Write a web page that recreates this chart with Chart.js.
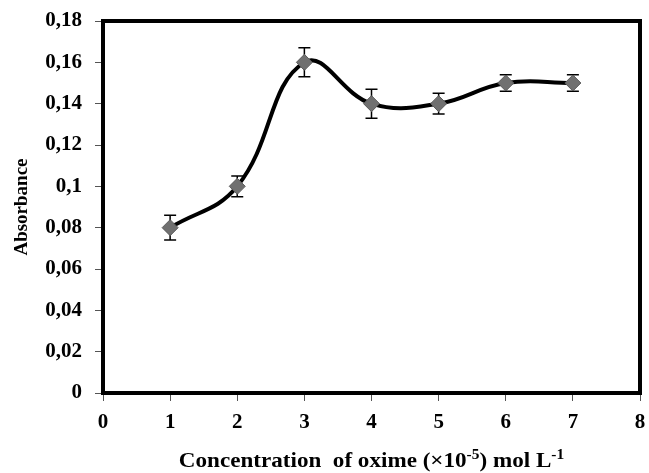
<!DOCTYPE html>
<html>
<head>
<meta charset="utf-8">
<script src="https://cdn.jsdelivr.net/npm/chart.js@4"></script>
<style>
  html, body { margin: 0; padding: 0; background: #fff; }
  #wrap { width: 649px; height: 473px; position: relative; }
</style>
</head>
<body>
<div id="wrap"><canvas id="chart" width="649" height="473"></canvas></div>
<script>
// Absorbance vs oxime concentration
const concentrations = [1, 2, 3, 4, 5, 6, 7];
const absorbance = [0.08, 0.10, 0.16, 0.14, 0.14, 0.15, 0.15];
const errors = [0.006, 0.005, 0.007, 0.007, 0.005, 0.004, 0.004];
const xTicks = [0, 1, 2, 3, 4, 5, 6, 7, 8];
const yTicks = [0, 0.02, 0.04, 0.06, 0.08, 0.1, 0.12, 0.14, 0.16, 0.18];

const FONT = '"Liberation Serif", "Times New Roman", serif';

function fmtComma(v) {
    return String(Math.round(v * 100) / 100).replace('.', ',');
}

// error bars drawn through the scales, under the markers
const errorBars = {
    id: 'errorBars',
    beforeDatasetsDraw(chart) {
        const ctx = chart.ctx;
        const xs = chart.scales.x, ys = chart.scales.y;
        ctx.save();
        ctx.strokeStyle = '#000';
        ctx.lineWidth = 1.5;
        concentrations.forEach((c, i) => {
            const px = xs.getPixelForValue(c);
            const top = ys.getPixelForValue(absorbance[i] + errors[i]);
            const bot = ys.getPixelForValue(absorbance[i] - errors[i]);
            ctx.beginPath();
            ctx.moveTo(px, top); ctx.lineTo(px, bot);
            ctx.moveTo(px - 6, top); ctx.lineTo(px + 6, top);
            ctx.moveTo(px - 6, bot); ctx.lineTo(px + 6, bot);
            ctx.stroke();
        });
        ctx.restore();
    }
};

// frame round the plot and the x title with superscripts
const frameAndTitle = {
    id: 'frameAndTitle',
    afterDraw(chart) {
        const ctx = chart.ctx;
        const a = chart.chartArea;
        ctx.save();
        ctx.strokeStyle = '#000';
        ctx.lineWidth = 4;
        ctx.strokeRect(a.left, a.top, a.right - a.left, a.bottom - a.top);

        const parts = [
            ['Concentration  of oxime (\u00d710', false],
            ['-5', true],
            [') mol L', false],
            ['-1', true]
        ];
        const big = 'bold 21px ' + FONT, small = 'bold 14px ' + FONT;
        let w = 0;
        parts.forEach(p => { ctx.font = p[1] ? small : big; w += ctx.measureText(p[0]).width; });
        const sx = 1.1;
        const cx = (a.left + a.right) / 2;
        ctx.translate(cx, 467);
        ctx.scale(sx, 1);
        let x = -w / 2;
        ctx.fillStyle = '#000';
        ctx.textBaseline = 'alphabetic';
        parts.forEach(p => {
            ctx.font = p[1] ? small : big;
            ctx.fillText(p[0], x, p[1] ? -8 : 0);
            x += ctx.measureText(p[0]).width;
        });
        ctx.restore();
    }
};

new Chart(document.getElementById('chart'), {
    type: 'line',
    data: {
        datasets: [{
            data: concentrations.map((c, i) => ({ x: c, y: absorbance[i] })),
            borderColor: '#000',
            borderWidth: 4,
            tension: 0.42,
            pointStyle: 'rectRot',
            pointRadius: 8,
            pointBackgroundColor: '#707070',
            pointBorderColor: '#5a5a5a',
            pointBorderWidth: 1
        }]
    },
    options: {
        responsive: false,
        animation: false,
        layout: { padding: { top: 21, right: 7, left: 11, bottom: 0 } },
        plugins: { legend: { display: false }, tooltip: { enabled: false } },
        scales: {
            x: {
                type: 'linear',
                min: 0, max: 8,
                afterBuildTicks: s => { s.ticks = xTicks.map(v => ({ value: v })); },
                afterFit: s => { s.height = 80; s.paddingLeft = 0; s.paddingRight = 0; },
                border: { display: false },
                grid: { drawOnChartArea: false, color: '#555', tickLength: 8, lineWidth: 1 },
                ticks: { color: '#000', font: { family: FONT, size: 21, weight: 'bold' }, padding: 9 }
            },
            y: {
                min: 0, max: 0.18,
                afterBuildTicks: s => { s.ticks = yTicks.map(v => ({ value: v })); },
                afterFit: s => { s.width = 92; s.paddingTop = 0; s.paddingBottom = 0; },
                border: { display: false },
                grid: { drawOnChartArea: false, color: '#555', tickLength: 8, lineWidth: 1 },
                ticks: {
                    color: '#000',
                    font: { family: FONT, size: 21, weight: 'bold' },
                    padding: 13,
                    callback: v => fmtComma(v)
                },
                title: {
                    display: true,
                    text: 'Absorbance',
                    color: '#000',
                    font: { family: FONT, size: 19, weight: 'bold' },
                    padding: { top: 0, bottom: 4 }
                }
            }
        }
    },
    plugins: [errorBars, frameAndTitle]
});
</script>
</body>
</html>
